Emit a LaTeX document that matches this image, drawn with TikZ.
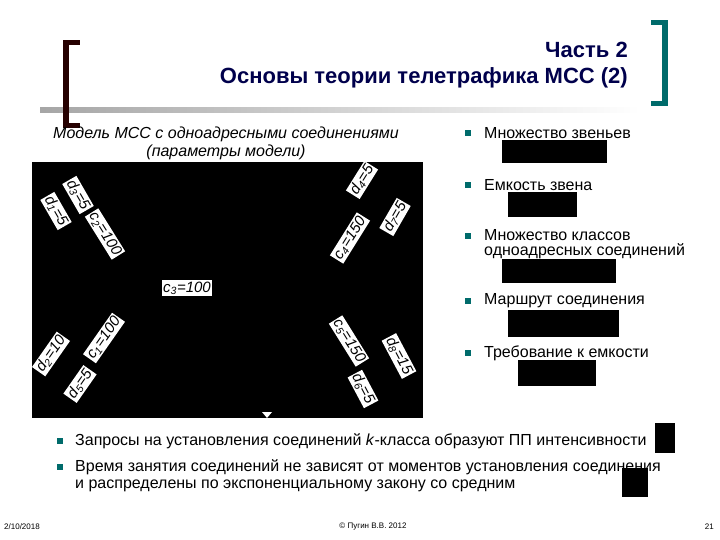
\documentclass[tikz,border=0pt]{standalone}
\usepackage{fontspec}
\setmainfont{Liberation Sans}
\begin{document}
\begin{tikzpicture}[x=1pt,y=-1pt,
  lbl/.style={fill=white,inner sep=1.5pt,font=\fontsize{15}{15}\selectfont\itshape},
  blk/.style={fill=black,draw=none},
  btxt/.style={anchor=west,font=\fontsize{16}{17.5}\selectfont,align=left,inner sep=0},
  bul/.style={fill=teal!80!cyan!70!black,minimum size=6.5pt,inner sep=0}]
\useasboundingbox (0,0) rectangle (720,540);
\fill[white] (0,0) rectangle (720,540);
% header line
\shade[left color=gray!70,right color=white] (40,108) rectangle (640,113);
% brackets
\fill[black!85!red] (63,40) rectangle (69,128);
\fill[black!85!red] (63,40) rectangle (80,45);
\fill[black!85!red] (63,123) rectangle (80,128);
\fill[teal!80!cyan!70!black] (662,20) rectangle (668,106);
\fill[teal!80!cyan!70!black] (651,20) rectangle (668,25);
\fill[teal!80!cyan!70!black] (651,101) rectangle (668,106);
% title
\node[anchor=east,font=\fontsize{22}{26}\selectfont\bfseries,text=blue!30!black,align=right,inner sep=0] (title) at (628,65) {Часть 2\\Основы теории телетрафика МСС (2)};
% model caption
\node[font=\fontsize{16}{18}\selectfont\itshape,align=center,inner sep=0] (cap) at (226,143) {Модель МСС с одноадресными соединениями\\(параметры модели)};
% black diagram
\fill[black] (32,162) rectangle (423,418);
\node[lbl,rotate=-60] (d1) at (56,211) {d\textsubscript{1}=5};
\node[lbl,rotate=-60] (d3) at (78,195) {d\textsubscript{3}=5};
\node[lbl,rotate=-58] (c2) at (105,234) {c\textsubscript{2}=100};
\node[lbl,rotate=58] (d4) at (362,180) {d\textsubscript{4}=5};
\node[lbl,rotate=60] (d7) at (395,217) {d\textsubscript{7}=5};
\node[lbl,rotate=58] (c4) at (350,238) {c\textsubscript{4}=150};
\node[lbl,rotate=0] (c3) at (187,288) {c\textsubscript{3}=100};
\node[lbl,rotate=55] (c1) at (104,338) {c\textsubscript{1}=100};
\node[lbl,rotate=55] (d2) at (51,354) {d\textsubscript{2}=10};
\node[lbl,rotate=55] (d5) at (80,384) {d\textsubscript{5}=5};
\node[lbl,rotate=-58] (c5) at (349,341) {c\textsubscript{5}=150};
\node[lbl,rotate=-62] (d8) at (399,356) {d\textsubscript{8}=15};
\node[lbl,rotate=-62] (d6) at (363,389) {d\textsubscript{6}=5};
\fill[white] (262,412) -- (272,412) -- (267,418) -- cycle;
% right bullets
\node[bul] (b1) at (468,133) {};
\node[btxt] (t1) at (484,133) {Множество звеньев};
\fill[blk] (502,140) rectangle (607,163);
\node[bul] (b2) at (468,185) {};
\node[btxt] (t2) at (484,185) {Емкость звена};
\fill[blk] (508,192) rectangle (577,217);
\node[bul] (b3) at (468,236) {};
\node[btxt,anchor=north west] (t3) at (484,229) {Множество классов\\[-2pt]одноадресных соединений};
\fill[blk] (502,259) rectangle (616,283);
\node[bul] (b4) at (468,301) {};
\node[btxt] (t4) at (484,301) {Маршрут соединения};
\fill[blk] (508,310) rectangle (619,337);
\node[bul] (b5) at (468,353) {};
\node[btxt] (t5) at (484,353) {Требование к емкости};
\fill[blk] (518,360) rectangle (596,386);
% bottom bullets
\node[bul] (b6) at (60,441) {};
\node[btxt] (t6) at (75,441) {Запросы на установления соединений \textit{k}-класса образуют ПП интенсивности};
\fill[blk] (655,423) rectangle (675,453);
\node[bul] (b7) at (60,467) {};
\node[btxt,anchor=north west] (t7) at (75,459) {Время занятия соединений не зависят от моментов установления соединения\\и распределены по экспоненциальному закону со средним};
\fill[blk] (622,468) rectangle (648,497);
% footer
\node[font=\fontsize{8}{8}\selectfont,anchor=west,inner sep=0] (f1) at (4,527) {2/10/2018};
\node[font=\fontsize{8}{8}\selectfont,inner sep=0] (f2) at (373,527) {© Пугин В.В. 2012};
\node[font=\fontsize{8}{8}\selectfont,anchor=east,inner sep=0] (f3) at (714,527) {21};
\end{tikzpicture}
\end{document}
